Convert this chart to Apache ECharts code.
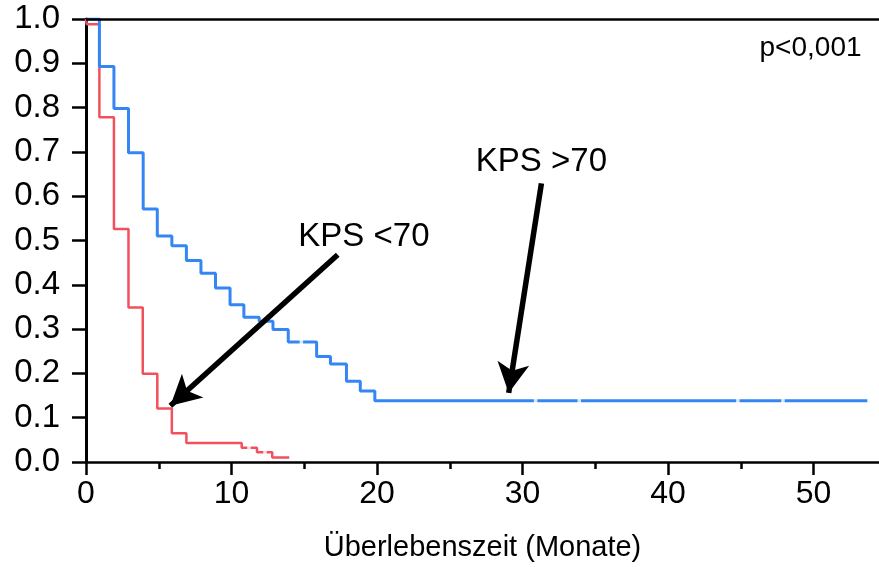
<!DOCTYPE html>
<html>
<head>
<meta charset="utf-8">
<script src="https://cdn.jsdelivr.net/npm/echarts@6/dist/echarts.min.js"></script>
<style>
html,body{margin:0;padding:0;background:#fff;}
#chart{width:879px;height:567px;}
</style>
</head>
<body>
<div id="chart"></div>
<script>
// Kaplan-Meier step data (time in months, survival fraction)
const blueName = 'KPS >70';
const blueTimes = [0, 0.92, 1.92, 2.92, 3.93, 4.9, 5.9, 6.9, 7.9, 8.9, 9.9, 10.85, 11.9, 12.85, 13.9, 15.85, 16.8, 17.9, 18.85, 19.85, 53.7];
const blueSurv  = [1.0, 0.893, 0.798, 0.698, 0.571, 0.510, 0.488, 0.455, 0.426, 0.393, 0.355, 0.327, 0.318, 0.299, 0.271, 0.238, 0.221, 0.182, 0.160, 0.138, 0.138];
const blueCensored = [14.8, 30.9, 33.9, 44.8, 47.9];

const redName = 'KPS <70';
const redTimes = [0, 0.05, 0.92, 1.92, 2.92, 3.9, 4.9, 5.9, 6.9, 10.7, 11.75, 12.8, 13.97];
const redSurv  = [1.0, 0.988, 0.778, 0.526, 0.349, 0.199, 0.121, 0.065, 0.043, 0.032, 0.022, 0.010, 0.010];
const redCensored = [11.2, 12.3];

const xMajorTicks = [0, 10, 20, 30, 40, 50];
const xMinorTicks = [5, 15, 25, 35, 45];
const xAxisTitle = 'Überlebenszeit (Monate)';
const pValueText = 'p<0,001';

// annotation arrows: [start, end] in data coords
const arrowRed  = [[17.3, 0.468], [5.8, 0.127]];
const arrowBlue = [[31.3, 0.629], [29.05, 0.156]];
const labelRed  = [19.1, 0.508];
const labelBlue = [31.3, 0.677];
const labelP    = [53.3, 0.934];

const BLUE = '#3586F5';
const RED = '#F2505C';
const FONT = '"Liberation Sans", Arial, Helvetica, sans-serif';

function pairs(ts, ss){ return ts.map((t,i)=>[t, ss[i]]); }
function stepAt(ts, ss, t){ let v = ss[0]; for(let i=0;i<ts.length;i++){ if(ts[i]<=t) v=ss[i]; } return v; }

const chart = echarts.init(document.getElementById('chart'), null, {renderer:'canvas'});
const arrowLine = {color:'#000', width:5.5, type:'solid'};
chart.setOption({
  animation:false,
  backgroundColor:'#fff',
  textStyle:{fontFamily:FONT},
  grid:{left:86, right:0, top:19, bottom:104, containLabel:false},
  xAxis:[{
    type:'value', min:0, max:54.5,
    axisLine:{show:true, onZero:false, lineStyle:{color:'#000', width:2.5}},
    axisTick:{show:true, length:13, lineStyle:{color:'#000', width:2.5}, customValues:xMajorTicks},
    axisLabel:{fontSize:32, color:'#000', margin:16, fontFamily:FONT, customValues:xMajorTicks},
    splitLine:{show:false},
    name:xAxisTitle, nameLocation:'middle', nameGap:71,
    nameTextStyle:{fontSize:29, color:'#000', fontFamily:FONT}
  },{
    type:'value', min:0, max:54.5, position:'bottom',
    axisLine:{show:false},
    axisTick:{show:true, length:7, lineStyle:{color:'#000', width:2.5}, customValues:xMinorTicks},
    axisLabel:{show:false},
    splitLine:{show:false}
  }],
  yAxis:{
    type:'value', min:0, max:1, interval:0.1,
    axisLine:{show:true, onZero:false, lineStyle:{color:'#000', width:3}},
    axisTick:{show:true, length:14, lineStyle:{color:'#000', width:2.5}},
    axisLabel:{fontSize:33, color:'#000', margin:26, fontFamily:FONT, formatter:v=>v.toFixed(1)},
    splitLine:{show:false}
  },
  series:[
    {
      name:redName, type:'line', step:'end', data:pairs(redTimes, redSurv),
      showSymbol:false, lineStyle:{color:RED, width:2.5}, itemStyle:{color:RED}, z:3,
      markLine:{
        silent:true, symbol:['none','none'], label:{show:false},
        lineStyle:{color:'#000', width:2.5, type:'solid'},
        data:[{yAxis:1}]
      }
    },
    {
      name:blueName, type:'line', step:'end', data:pairs(blueTimes, blueSurv),
      showSymbol:false, lineStyle:{color:BLUE, width:3}, itemStyle:{color:BLUE}, z:4,
      markLine:{
        silent:true, symbol:['none','arrow'], symbolSize:[24,30], label:{show:false},
        lineStyle:arrowLine, z:10,
        data:[
          [{coord:arrowRed[0], lineStyle:arrowLine, itemStyle:{color:'#000'}}, {coord:arrowRed[1]}],
          [{coord:arrowBlue[0], lineStyle:arrowLine, itemStyle:{color:'#000'}}, {coord:arrowBlue[1]}]
        ]
      },
      markPoint:{
        silent:true, symbol:'rect', symbolSize:0,
        label:{show:true, color:'#000', fontFamily:FONT},
        data:[
          {coord:labelRed, value:redName, label:{formatter:redName, fontSize:33, align:'center', verticalAlign:'middle'}},
          {coord:labelBlue, value:blueName, label:{formatter:blueName, fontSize:33, align:'center', verticalAlign:'middle'}},
          {coord:labelP, value:pValueText, label:{formatter:pValueText, fontSize:28, align:'right', verticalAlign:'middle'}}
        ]
      }
    },
    {
      name:'censored', type:'scatter', z:6, silent:true,
      symbol:'rect', symbolSize:[3.5,8],
      itemStyle:{color:'#fff'},
      data: blueCensored.map(t=>[t, stepAt(blueTimes, blueSurv, t)])
        .concat(redCensored.map(t=>[t, stepAt(redTimes, redSurv, t)]))
    }
  ]
});
</script>
</body>
</html>
